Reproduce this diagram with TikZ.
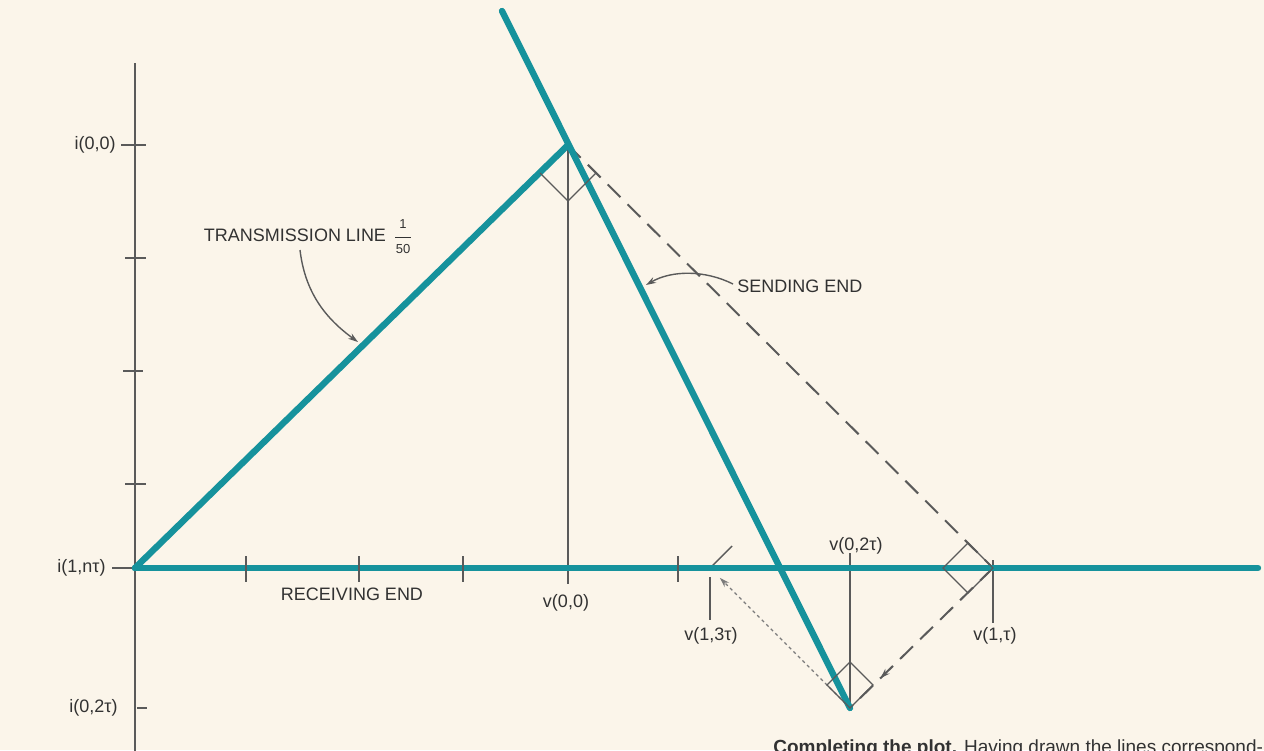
\documentclass[tikz,border=0pt]{standalone}
\usepackage{fontspec}
\setmainfont{Liberation Sans}
\usetikzlibrary{decorations.markings,arrows.meta}
\definecolor{bg}{RGB}{251,245,234}
\definecolor{tealline}{RGB}{22,146,156}
\definecolor{ink}{RGB}{90,90,90}
\definecolor{txt}{RGB}{50,50,50}
\begin{document}
\begin{tikzpicture}[x=0.5pt,y=-0.5pt,
  plotline/.style={tealline,line width=3.2pt,line cap=round},
  thinline/.style={ink,line width=0.7pt},
  marker/.style={ink,line width=0.6pt},
  lbl/.style={text=txt,font=\fontsize{9}{10}\selectfont,inner sep=0pt},
  small/.style={text=txt,font=\fontsize{6.5}{7}\selectfont,inner sep=0pt},
  dashline/.style={ink,line width=1pt,dash pattern=on 9pt off 5pt},
  dotline/.style={ink!80,line width=0.6pt,dash pattern=on 1.6pt off 1.6pt},
  tip/.style={-{Stealth[length=5pt,width=3.2pt]}},
  midtip/.style={postaction={decorate},decoration={markings,mark=at position #1 with {\arrow{Stealth[length=5pt,width=3.2pt]}}}},
]
\fill[bg] (0,0) rectangle (1264,750);
\useasboundingbox (0,0) rectangle (1264,750);

% key points
\coordinate (O) at (135,568);
\coordinate (P) at (568,145);
\coordinate (S) at (502,11);
\coordinate (Q) at (850,708);
\coordinate (R) at (993,568);
\coordinate (T) at (710,568);
\coordinate (E) at (1258,568);
\coordinate (Ytop) at (135,63);
\coordinate (Ybot) at (135,755);

% vertical axis and ticks
\draw[thinline] (Ytop) -- (Ybot);
\draw[thinline] (121,145) -- (146,145);
\draw[thinline] (125,258) -- (146,258);
\draw[thinline] (123,371) -- (143,371);
\draw[thinline] (125,484) -- (146,484);
\draw[thinline] (137,708) -- (147,708);
\draw[thinline] (112,568) -- (O);

% dashed construction lines
\draw[dashline] (P) -- (R);
\draw[dashline,midtip=0.79] (R) -- (Q);
\draw[dotline,tip,shorten >=7pt] (Q) -- (T);

% thin vertical lines
\draw[thinline] (P) -- (568,584);
\draw[thinline] (850,553) -- (Q);
\draw[thinline] (710,577) -- (710,620);
\draw[thinline] (993,560) -- (993,623);
\draw[thinline] (T) -- ++(22,-22);

% teal plot lines
\draw[plotline] (O) -- (E);
\draw[plotline] (O) -- (P);
\draw[plotline] (S) -- (Q);

% horizontal axis ticks
\foreach \xx in {246,359,463,678}
  \draw[thinline] (\xx,556) -- (\xx,582);

% right-angle markers
\draw[marker] (P) ++(-28,28) -- ++(28,28) -- ++(28,-28);
\draw[marker] (R) -- ++(-25,-25) -- ++(-25,25) -- ++(25,25) -- cycle;
\draw[marker] (Q) -- ++(23,-23) -- ++(-23,-23) -- ++(-23,23) -- cycle;

% axis labels
\node[lbl,anchor=east] (i00) at (116,145) {i(0,0)};
\node[lbl,anchor=east] (i1n) at (106,568) {i(1,nτ)};
\node[lbl,anchor=east] (i02) at (118,708) {i(0,2τ)};

% curve labels
\node[lbl] (tl) at (295,235) {TRANSMISSION LINE};
\node[small] (one) at (403,224) {1};
\node[small] (fifty) at (403,249) {50};
\draw[txt,line width=0.5pt] (395,237) -- (411,237);
\coordinate (tlA) at (300,250);
\coordinate (tlB) at (358,342);
\draw[thinline,tip] (tlA) .. controls (305,292) and (325,318) .. (tlB);

\node[lbl,anchor=west] (se) at (737,286) {SENDING END};
\coordinate (seA) at (733,284);
\coordinate (seB) at (646,285);
\draw[thinline,tip] (seA) .. controls (705,270) and (672,270) .. (seB);

\node[lbl] (re) at (352,594) {RECEIVING END};
\node[lbl] (v00) at (566,603) {v(0,0)};
\node[lbl] (v02) at (856,546) {v(0,2τ)};
\node[lbl] (v13) at (711,636) {v(1,3τ)};
\node[lbl] (v11) at (995,636) {v(1,τ)};

% caption (cut off by the page edge, as in the reference)
\node[anchor=base west,inner sep=0pt,text=txt,font=\fontsize{9.5}{11}\selectfont] (cap) at (773,753) {\textbf{Completing the plot.} Having drawn the lines correspond-};
\end{tikzpicture}
\end{document}
